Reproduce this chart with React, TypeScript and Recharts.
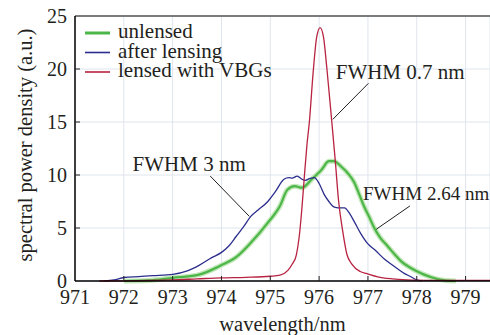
import * as React from 'react';
import {
  LineChart,
  Line,
  XAxis,
  YAxis,
  CartesianGrid,
  Legend,
  ReferenceLine,
  ReferenceDot,
} from 'recharts';

// wavelength (nm) / spectral power density (a.u.)
const unlensedX = [972.0, 972.5, 973.0, 973.5, 973.8, 974.0, 974.3, 974.6, 974.95, 975.2, 975.35, 975.5, 975.65, 975.85, 976.05, 976.2, 976.3, 976.45, 976.6, 976.72, 976.82, 976.92, 977.03, 977.13, 977.25, 977.4, 977.55, 977.67, 977.85, 978.0, 978.15, 978.3, 978.45, 978.6, 978.8];
const unlensedY = [0.0, 0.05, 0.3, 0.55, 1.05, 1.5, 2.25, 3.6, 5.5, 7.1, 8.6, 8.95, 8.8, 9.6, 10.5, 11.3, 11.3, 10.8, 10.1, 9.3, 8.2, 7.05, 6.0, 5.0, 4.1, 3.3, 2.5, 1.9, 1.3, 0.92, 0.6, 0.35, 0.15, 0.05, 0.0];

const afterX = [971.6, 971.8, 972.0, 972.3, 972.6, 973.0, 973.3, 973.55, 973.8, 974.0, 974.15, 974.3, 974.45, 974.6, 974.75, 974.95, 975.1, 975.28, 975.38, 975.45, 975.55, 975.65, 975.72, 975.8, 975.9, 976.0, 976.1, 976.2, 976.3, 976.4, 976.52, 976.62, 976.72, 976.85, 977.0, 977.15, 977.33, 977.5, 977.62, 977.75, 977.88, 978.0, 978.1];
const afterY = [0.0, 0.1, 0.33, 0.42, 0.5, 0.62, 0.95, 1.5, 2.2, 2.7, 3.3, 4.2, 5.1, 6.1, 6.7, 7.5, 8.4, 9.6, 9.75, 9.7, 9.9, 9.6, 9.5, 9.65, 9.75, 9.2, 8.2, 7.5, 7.0, 6.9, 6.9, 6.4, 5.6, 4.5, 3.5, 2.9, 2.1, 1.5, 1.1, 0.7, 0.4, 0.1, 0.0];

const vbgX = [971.5, 972.0, 972.5, 973.0, 973.5, 974.0, 974.5, 975.0, 975.2, 975.36, 975.45, 975.53, 975.6, 975.65, 975.7, 975.75, 975.8, 975.88, 975.95, 976.02, 976.09, 976.16, 976.26, 976.33, 976.4, 976.48, 976.57, 976.67, 976.84, 976.98, 977.2, 977.5, 977.9, 978.5, 979.5];
const vbgY = [0.0, 0.02, 0.05, 0.1, 0.2, 0.3, 0.35, 0.45, 0.55, 1.0, 1.6, 2.4, 4.5, 7.0, 10.0, 12.8, 15.0, 19.8, 23.0, 23.9, 23.0, 20.0, 15.0, 11.4, 7.5, 4.8, 2.5, 1.6, 0.9, 0.7, 0.4, 0.2, 0.08, 0.05, 0.05];

const xTicks = [971, 972, 973, 974, 975, 976, 977, 978, 979];
const yTicks = [0, 5, 10, 15, 20, 25];

const series = [
  { name: 'unlensed', color: '#4db648' },
  { name: 'after lensing', color: '#2b2e8c' },
  { name: 'lensed with VBGs', color: '#b82342' },
];

// leader lines and labels, in data units
const annotations = [
  { text: 'FWHM 3 nm', tx: 972.18, ty: 10.4, from: [973.77, 9.9], to: [974.57, 6.1], size: 21 },
  { text: 'FWHM 0.7 nm', tx: 976.34, ty: 19.1, from: [977.01, 18.65], to: [976.28, 15.25], size: 21 },
  { text: 'FWHM 2.64 nm', tx: 976.9, ty: 7.6, from: [977.86, 7.08], to: [977.17, 4.88], size: 19 },
];

const toPoints = (xs: number[], ys: number[]) => xs.map((x, i) => ({ x, y: ys[i] }));

const unlensedData = toPoints(unlensedX, unlensedY);
const afterData = toPoints(afterX, afterY);
const vbgData = toPoints(vbgX, vbgY);

const INK = '#231f20';
const serif = (size: number): React.CSSProperties => ({
  fontFamily: "'Liberation Serif', 'Times New Roman', serif",
  fontSize: size,
  fill: INK,
});

const XTick = (props: any) => {
  const { x, y, payload } = props;
  const axisY = y - 9;
  return (
    <g>
      {payload.value !== 971 && (
        <line x1={x} x2={x} y1={axisY} y2={axisY - 5} stroke={INK} strokeWidth={1} />
      )}
      <text x={x} y={y} dy="0.71em" textAnchor="middle" style={serif(20)}>
        {payload.value}
      </text>
    </g>
  );
};

const YTick = (props: any) => {
  const { x, y, payload } = props;
  const axisX = x + 8;
  return (
    <g>
      {payload.value !== 25 && payload.value !== 0 && (
        <line x1={axisX} x2={axisX + 5} y1={y} y2={y} stroke={INK} strokeWidth={1} />
      )}
      <text x={x} y={y} dy="0.35em" textAnchor="end" style={serif(20)}>
        {payload.value}
      </text>
    </g>
  );
};

const renderLegend = () => (
  <svg width={220} height={80} style={{ display: 'block' }}>
    {series.map((s, i) => {
      const cy = 20 + i * 19.5;
      return (
        <g key={s.name}>
          <line x1={0} x2={25} y1={cy} y2={cy} stroke={s.color} strokeWidth={i === 0 ? 3 : 1.6} />
          <text x={33} y={cy + 5} style={serif(21)}>
            {s.name}
          </text>
        </g>
      );
    })}
  </svg>
);

const annotationText = (text: string, size: number) => (props: any) => {
  const { viewBox } = props;
  return (
    <text x={viewBox.x} y={viewBox.y} style={serif(size)}>
      {text}
    </text>
  );
};

export default function App(): React.JSX.Element {
  return (
    <div style={{ position: 'absolute', left: 0, top: 0, background: '#fff' }}>
      <LineChart width={490} height={335} margin={{ top: 16, right: 0, bottom: 24, left: 0 }}>
        <CartesianGrid stroke="#dfe5ec" strokeWidth={1} />
        <XAxis
          type="number"
          dataKey="x"
          domain={[971, 979.5]}
          ticks={xTicks}
          allowDataOverflow
          height={30}
          tickSize={0}
          tickMargin={9}
          tick={<XTick />}
          stroke="#000"
          strokeWidth={1.5}
          label={{
            content: (p: any) => (
              <text
                x={p.viewBox.x + p.viewBox.width / 2}
                y={331}
                textAnchor="middle"
                style={serif(20.5)}
              >
                wavelength/nm
              </text>
            ),
          }}
        />
        <YAxis
          type="number"
          domain={[0, 25]}
          ticks={yTicks}
          width={75}
          tickSize={0}
          tickMargin={8}
          tick={<YTick />}
          stroke="#000"
          strokeWidth={1.5}
          label={{
            content: () => (
              <text
                transform="translate(31.5,145) rotate(-90)"
                textAnchor="middle"
                style={serif(20.5)}
              >
                spectral power density (a.u.)
              </text>
            ),
          }}
        />
        <ReferenceLine y={25} stroke="#555" strokeWidth={1.5} />
        <Legend
          layout="vertical"
          align="center"
          verticalAlign="middle"
          content={renderLegend}
          wrapperStyle={{ left: 85, top: 13.3, width: 220, height: 80 }}
        />
        <Line
          data={unlensedData}
          dataKey="y"
          type="monotone"
          stroke="#c3e8b9"
          strokeWidth={5}
          dot={false}
          legendType="none"
          isAnimationActive={false}
        />
        <Line
          data={unlensedData}
          dataKey="y"
          name="unlensed"
          type="monotone"
          stroke={series[0].color}
          strokeWidth={2.2}
          dot={false}
          isAnimationActive={false}
        />
        <Line
          data={afterData}
          dataKey="y"
          name="after lensing"
          type="monotone"
          stroke={series[1].color}
          strokeWidth={1.3}
          dot={false}
          isAnimationActive={false}
        />
        <Line
          data={vbgData}
          dataKey="y"
          name="lensed with VBGs"
          type="monotone"
          stroke={series[2].color}
          strokeWidth={1.3}
          dot={false}
          isAnimationActive={false}
        />
        {annotations.map((a) => (
          <ReferenceLine
            key={`l-${a.text}`}
            segment={[
              { x: a.from[0], y: a.from[1] },
              { x: a.to[0], y: a.to[1] },
            ]}
            stroke={INK}
            strokeWidth={1}
          />
        ))}
        {annotations.map((a) => (
          <ReferenceDot
            key={`t-${a.text}`}
            x={a.tx}
            y={a.ty}
            r={0}
            fill="none"
            stroke="none"
            label={{ content: annotationText(a.text, a.size) }}
          />
        ))}
      </LineChart>
    </div>
  );
}
